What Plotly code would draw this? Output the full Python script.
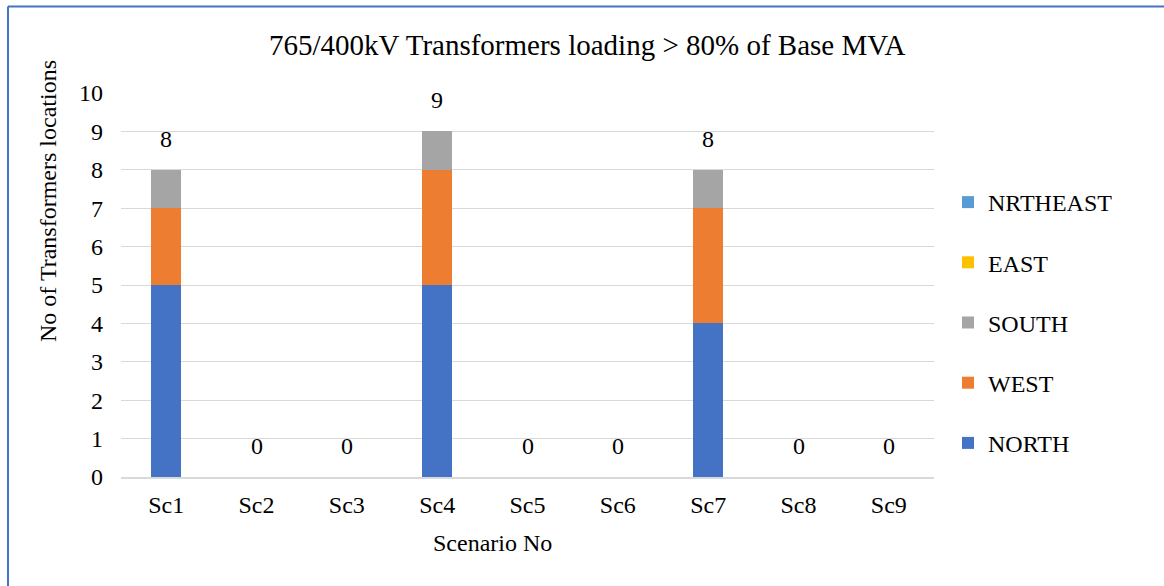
import plotly.graph_objects as go

categories = ["Sc1", "Sc2", "Sc3", "Sc4", "Sc5", "Sc6", "Sc7", "Sc8", "Sc9"]
north = [5, 0, 0, 5, 0, 0, 4, 0, 0]
west = [2, 0, 0, 3, 0, 0, 3, 0, 0]
south = [1, 0, 0, 1, 0, 0, 1, 0, 0]
east = [0, 0, 0, 0, 0, 0, 0, 0, 0]
nrtheast = [0, 0, 0, 0, 0, 0, 0, 0, 0]
totals = [n + w + s + e + ne for n, w, s, e, ne in zip(north, west, south, east, nrtheast)]
y_ticks = list(range(0, 11))

series = [
    ("NORTH", north, "#4472C4"),
    ("WEST", west, "#ED7D31"),
    ("SOUTH", south, "#A5A5A5"),
    ("EAST", east, "#FFC000"),
    ("NRTHEAST", nrtheast, "#5B9BD5"),
]

FONT = "Liberation Serif, Times New Roman, serif"
FS = 24

fig = go.Figure()
for i, (name, vals, col) in enumerate(series):
    fig.add_trace(go.Bar(x=categories, y=vals, name=name, marker_color=col,
                         marker_line_width=0, legendgroup=name,
                         legendrank=len(series) - i))

for c, t in zip(categories, totals):
    fig.add_annotation(x=c, y=t, text=str(t), showarrow=False, yshift=31,
                       font=dict(family=FONT, size=FS, color="#000"), yanchor="middle")

L, R, T, B = 121, 934, 93, 477
W, H = 1164, 586
pw, ph = R - L, B - T

def px2x(px):
    return (px - L) / pw

def py2y(py):
    return 1 - (py - T) / ph

# border lines (blue frame)
fig.add_shape(type="line", xref="paper", yref="paper", x0=px2x(8), x1=px2x(1170),
              y0=py2y(6.5), y1=py2y(6.5), line=dict(color="#4472C4", width=2))
fig.add_shape(type="line", xref="paper", yref="paper", x0=px2x(8), x1=px2x(8),
              y0=py2y(6.5), y1=py2y(600), line=dict(color="#4472C4", width=2))

# title and axis titles
fig.add_annotation(xref="paper", yref="paper", x=px2x(587), y=py2y(45),
                   text="765/400kV Transformers loading > 80% of Base MVA", showarrow=False,
                   font=dict(family=FONT, size=29, color="#000"), xanchor="center", yanchor="middle")
fig.add_annotation(xref="paper", yref="paper", x=px2x(48), y=py2y(201),
                   text="No of Transformers locations", showarrow=False, textangle=-90,
                   font=dict(family=FONT, size=FS, color="#000"), xanchor="center", yanchor="middle")
fig.add_annotation(xref="paper", yref="paper", x=px2x(492), y=py2y(543),
                   text="Scenario No", showarrow=False,
                   font=dict(family=FONT, size=FS, color="#000"), xanchor="center", yanchor="middle")

fig.update_layout(
    width=W, height=H,
    margin=dict(l=L, r=W - R, t=T, b=H - B, pad=0),
    paper_bgcolor="white", plot_bgcolor="white",
    barmode="stack", bargap=0.67,
    font=dict(family=FONT, size=FS, color="#000"),
    showlegend=True,
    legend=dict(x=px2x(948), y=py2y(180), xanchor="left", yanchor="top",
                traceorder="grouped", tracegroupgap=26,
                font=dict(family=FONT, size=FS, color="#000"),
                bgcolor="rgba(0,0,0,0)"),
)
fig.update_yaxes(range=[0, 10], tickvals=y_ticks, showgrid=True, gridcolor="#D9D9D9",
                 gridwidth=1, zeroline=False, showline=False, ticks="",
                 ticklabelstandoff=17, tickfont=dict(family=FONT, size=FS, color="#000"))
fig.update_xaxes(showgrid=False, showline=True, linecolor="#D9D9D9", linewidth=2,
                 ticks="", ticklabelstandoff=5,
                 tickfont=dict(family=FONT, size=FS, color="#000"))

fig.write_html("out.html", config={"displayModeBar": False},
               post_script="document.body.style.margin='0';document.body.style.overflow='hidden';")
